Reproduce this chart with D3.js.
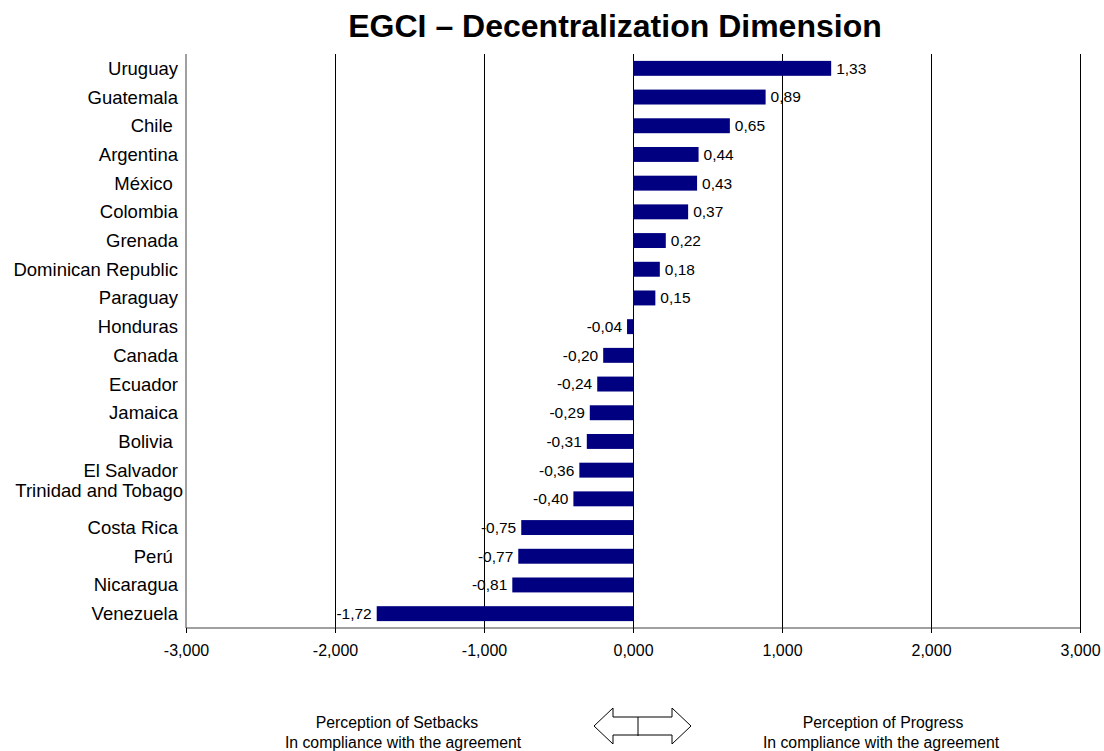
<!DOCTYPE html>
<html>
<head>
<meta charset="utf-8">
<script src="https://cdn.jsdelivr.net/npm/d3@7"></script>
<style>
  html, body { margin: 0; padding: 0; background: #fff; }
  svg { display: block; font-family: "Liberation Sans", Arial, sans-serif; }
</style>
</head>
<body>
<svg id="chart" width="1104" height="751"></svg>
<script>
// Country order, top to bottom
const countries = [
  "Uruguay", "Guatemala", "Chile ", "Argentina", "México ", "Colombia", "Grenada",
  "Dominican Republic", "Paraguay", "Honduras", "Canada", "Ecuador", "Jamaica",
  "Bolivia ", "El Salvador", "Trinidad and Tobago", "Costa Rica", "Perú ",
  "Nicaragua", "Venezuela"
];
// Decentralization index per country
const values = [
  1.33, 0.89, 0.65, 0.44, 0.43, 0.37, 0.22, 0.18, 0.15, -0.04,
  -0.20, -0.24, -0.29, -0.31, -0.36, -0.40, -0.75, -0.77, -0.81, -1.72
];
const xTicks = [-3, -2, -1, 0, 1, 2, 3];
const title = "EGCI – Decentralization Dimension";
const leftNote = ["Perception of Setbacks", "In compliance with the agreement"];
const rightNote = ["Perception of Progress", "In compliance with the agreement"];

const data = countries.map((c, i) => ({ country: c, value: values[i] }));

const svg = d3.select("#chart");
const m = { left: 186, right: 1080, top: 54, bottom: 628 };

const x = d3.scaleLinear().domain([-3, 3]).range([m.left, m.right]);
const y = d3.scaleBand().domain(countries).range([m.top, m.bottom]).paddingInner(0.48).paddingOuter(0.24);

const fmt2 = v => d3.format(".2f")(v).replace(".", ",").replace("−", "-");
const fmt3 = v => d3.format(".3f")(v).replace(".", ",").replace("−", "-");

// Title
svg.append("text")
  .attr("x", 615).attr("y", 37)
  .attr("text-anchor", "middle")
  .style("font-size", "32px").style("font-weight", "bold")
  .text(title);

// Vertical gridlines
svg.append("g").selectAll("line")
  .data(xTicks.filter(t => t !== -3))
  .join("line")
  .attr("x1", d => x(d)).attr("x2", d => x(d))
  .attr("y1", m.top).attr("y2", m.bottom)
  .attr("stroke", "#000").attr("stroke-width", 1)
  .attr("shape-rendering", "crispEdges");

// Bars
svg.append("g").selectAll("rect")
  .data(data)
  .join("rect")
  .attr("x", d => x(Math.min(0, d.value)))
  .attr("width", d => Math.abs(x(d.value) - x(0)))
  .attr("y", d => y(d.country))
  .attr("height", y.bandwidth())
  .attr("fill", "#000080");

// Value labels
svg.append("g").selectAll("text")
  .data(data)
  .join("text")
  .attr("x", d => d.value >= 0 ? x(d.value) + 5 : x(d.value) - 5)
  .attr("y", d => y(d.country) + y.bandwidth() / 2)
  .attr("dy", "0.35em")
  .attr("text-anchor", d => d.value >= 0 ? "start" : "end")
  .style("font-size", "15.5px")
  .text(d => fmt2(d.value));

// Left category axis
const yAxis = svg.append("g")
  .attr("transform", `translate(${m.left},0)`)
  .call(d3.axisLeft(y).tickSize(0).tickPadding(8));
yAxis.select(".domain").attr("stroke", "#808080").attr("stroke-width", 1.5)
  .attr("d", `M0,${m.top}V${m.bottom}`);
yAxis.selectAll("text")
  .style("font-size", "18.5px").style("font-family", "Liberation Sans, Arial, sans-serif")
  .attr("fill", "#000").style("white-space", "pre")
  .attr("dx", d => d === "Trinidad and Tobago" ? 5 : 0)
  .attr("dy", d => d === "Trinidad and Tobago" ? "-0.1em" : "0.35em");

// Bottom value axis
const xAxis = svg.append("g")
  .attr("transform", `translate(0,${m.bottom})`)
  .call(d3.axisBottom(x).tickValues(xTicks).tickFormat(fmt3).tickSize(5).tickPadding(12));
xAxis.select(".domain").attr("stroke", "#404040").attr("d", `M${m.left},0H${m.right}`);
xAxis.selectAll(".tick line").attr("stroke", "#000");
xAxis.selectAll("text")
  .style("font-size", "16px").style("font-family", "Liberation Sans, Arial, sans-serif")
  .attr("fill", "#000");

// Bottom notes (each line has its own centre)
function note(lines, centers) {
  const t = svg.append("text").attr("text-anchor", "middle").style("font-size", "15.8px");
  lines.forEach((s, i) => t.append("tspan").attr("x", centers[i]).attr("y", 728 + i * 20).text(s));
}
note(leftNote, [397, 403]);
note(rightNote, [883, 881]);

// Double-headed outline arrow
const ax0 = 594, ax1 = 691, ay = 726, shaft = 9, head = 18, headW = 19;
const arrow = d3.path();
arrow.moveTo(ax0, ay);
arrow.lineTo(ax0 + headW, ay - head);
arrow.lineTo(ax0 + headW, ay - shaft);
arrow.lineTo(ax1 - headW, ay - shaft);
arrow.lineTo(ax1 - headW, ay - head);
arrow.lineTo(ax1, ay);
arrow.lineTo(ax1 - headW, ay + head);
arrow.lineTo(ax1 - headW, ay + shaft);
arrow.lineTo(ax0 + headW, ay + shaft);
arrow.lineTo(ax0 + headW, ay + head);
arrow.closePath();
svg.append("path").attr("d", arrow.toString())
  .attr("fill", "#fff").attr("stroke", "#000").attr("stroke-width", 1);
svg.append("line")
  .attr("x1", 638).attr("x2", 638).attr("y1", ay - shaft).attr("y2", ay + shaft + 1)
  .attr("stroke", "#000");
</script>
</body>
</html>
